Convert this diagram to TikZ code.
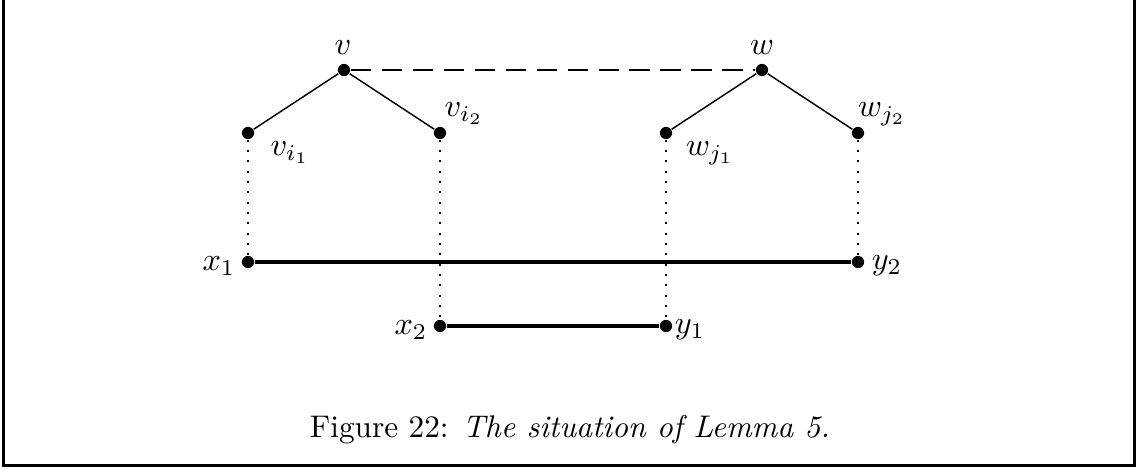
\documentclass[tikz,border=0pt]{standalone}
\begin{document}
\begin{tikzpicture}[x=0.31pt,y=-0.31pt,
  vtx/.style={circle,fill,inner sep=0pt,minimum size=3.8pt},
  tree/.style={line width=0.45pt},
  link/.style={line width=1.1pt},
  guide/.style={line width=0.6pt,dash pattern=on 0.6pt off 2.6pt},
  match/.style={line width=0.9pt,dash pattern=on 6.4pt off 3.2pt}]
  \useasboundingbox (0,0) rectangle (1136,470);
  \draw[line width=0.9pt] (3.5,0) -- (3.5,465.5) -- (1134.5,465.5) -- (1134.5,0);
  % vertices
  \node[vtx] (v) at (344,70) {};
  \node[vtx] (w) at (762,70) {};
  \node[vtx] (vi1) at (248,133) {};
  \node[vtx] (vi2) at (440,133) {};
  \node[vtx] (wj1) at (666,133) {};
  \node[vtx] (wj2) at (858,133) {};
  \node[vtx] (x1) at (248,262) {};
  \node[vtx] (y2) at (858,262) {};
  \node[vtx] (x2) at (440,326) {};
  \node[vtx] (y1) at (666,326) {};
  % edges
  \draw[tree] (vi1) -- (v) -- (vi2);
  \draw[tree] (wj1) -- (w) -- (wj2);
  \draw[match] (v) -- (w);
  \draw[guide] (vi1) -- (x1);
  \draw[guide] (vi2) -- (x2);
  \draw[guide] (wj1) -- (y1);
  \draw[guide] (wj2) -- (y2);
  \draw[link] (x1) -- (y2);
  \draw[link] (x2) -- (y1);
  % labels
  \node (lv) at (343,48) {$v$};
  \node (lw) at (762,48) {$w$};
  \node (lvi1) at (290,153) {$v_{i_1}$};
  \node (lvi2) at (464,114) {$v_{i_2}$};
  \node (lwj1) at (710,153) {$w_{j_1}$};
  \node (lwj2) at (882,114) {$w_{j_2}$};
  \node (lx1) at (219,266) {$x_1$};
  \node (ly2) at (887,266) {$y_2$};
  \node (lx2) at (411,330) {$x_2$};
  \node (ly1) at (690,330) {$y_1$};
  \node[scale=0.97] (cap) at (570,430) {Figure 22: \textit{The situation of Lemma 5.}};
\end{tikzpicture}
\end{document}
